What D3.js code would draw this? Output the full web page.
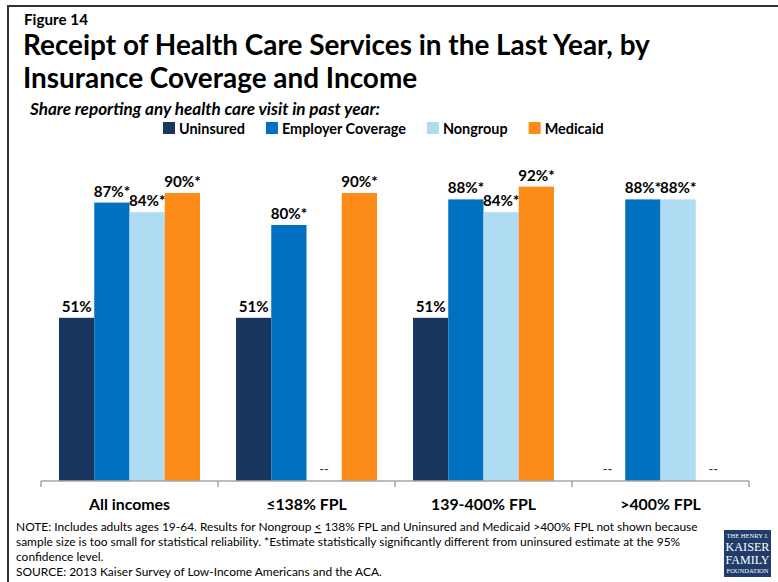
<!DOCTYPE html>
<html>
<head>
<meta charset="utf-8">
<script src="https://cdn.jsdelivr.net/npm/d3@7"></script>
<style>
  html, body { margin: 0; padding: 0; background: #fff; }
  svg { display: block; }
  text { font-family: Lato, "Open Sans", sans-serif; }
</style>
</head>
<body>
<svg id="chart" width="778" height="582"></svg>
<script>
// Share reporting any health care visit in past year, by coverage and income
const categories = ["All incomes", "\u2264138% FPL", "139-400% FPL", ">400% FPL"];
const series = ["Uninsured", "Employer Coverage", "Nongroup", "Medicaid"];
const uninsured = [51, 51, 51, null];
const employer = [87, 80, 88, 88];
const nongroup = [84, null, 84, 88];
const medicaid = [90, 90, 92, null];
// "*" = statistically different from the uninsured estimate
const significant = [false, true, true, true];
const colors = ["#17375e", "#0070c0", "#afdcf3", "#fd8b17"];

const values = [uninsured, employer, nongroup, medicaid];

const svg = d3.select("#chart");

// scale a text's font size so its rendered width equals w
function fit(sel, w) {
  const len = sel.node().getComputedTextLength();
  const fs = parseFloat(sel.attr("font-size"));
  const nfs = fs * w / len;
  sel.attr("font-size", nfs);
  return nfs;
}

// frame
svg.append("rect")
  .attr("x", 8).attr("y", 6).attr("width", 800).attr("height", 600)
  .attr("fill", "none").attr("stroke", "#333").attr("stroke-width", 2);

// headings
const fig = svg.append("text").attr("x", 24).attr("y", 25)
  .attr("font-size", 14).attr("font-weight", 700).text("Figure 14");
fit(fig, 64);

const t1 = svg.append("text").attr("x", 23).attr("y", 55)
  .attr("font-size", 27).attr("font-weight", 700)
  .text("Receipt of Health Care Services in the Last Year, by");
const titleSize = fit(t1, 627);
svg.append("text").attr("x", 23).attr("y", 88)
  .attr("font-size", titleSize).attr("font-weight", 700)
  .text("Insurance Coverage and Income");

const sub = svg.append("text").attr("x", 30).attr("y", 115)
  .attr("font-size", 16).attr("font-weight", 700).attr("font-style", "italic")
  .text("Share reporting any health care visit in past year:");
fit(sub, 350);

// legend
const legendSize = (() => {
  const probe = svg.append("text").attr("font-size", 15).attr("font-weight", 700).text("Uninsured");
  const s = fit(probe, 66);
  probe.remove();
  return s;
})();
let lx = 163;
series.forEach((name, i) => {
  svg.append("rect").attr("x", lx).attr("y", 122).attr("width", 12).attr("height", 12)
    .attr("fill", colors[i]);
  const tx = svg.append("text").attr("x", lx + 16).attr("y", 134)
    .attr("font-size", legendSize).attr("font-weight", 700).text(name);
  lx += 16 + tx.node().getComputedTextLength() + 21;
});

// scales
const x0 = d3.scaleBand().domain(categories).range([41, 749]);
const x1 = d3.scaleBand().domain(series).range([18, x0.bandwidth() - 18]);
const y = d3.scaleLinear().domain([0, 100]).range([481, 161]);

// bar label size
const labelSize = (() => {
  const probe = svg.append("text").attr("font-size", 16).attr("font-weight", 700).text("51%");
  const s = fit(probe, 30);
  probe.remove();
  return s;
})();

const groups = svg.append("g").selectAll("g").data(categories).join("g")
  .attr("transform", d => `translate(${x0(d)},0)`);

series.forEach((name, si) => {
  categories.forEach((cat, ci) => {
    const v = values[si][ci];
    const g = groups.filter(d => d === cat);
    const cx = x1(name) + x1.bandwidth() / 2;
    if (v == null) {
      g.append("text").attr("x", cx).attr("y", 474)
        .attr("text-anchor", "middle").attr("font-size", 13).attr("fill", "#333")
        .text("--");
      return;
    }
    g.append("rect")
      .attr("x", x1(name)).attr("width", x1.bandwidth())
      .attr("y", y(v)).attr("height", y(0) - y(v))
      .attr("fill", colors[si]);
    g.append("text").attr("x", cx).attr("y", y(v) - 6)
      .attr("text-anchor", "middle").attr("font-size", labelSize).attr("font-weight", 700)
      .text(v + "%" + (significant[si] ? "*" : ""));
  });
});

// x axis
const axis = svg.append("g").attr("transform", "translate(0,481)")
  .call(d3.axisBottom(x0).tickSize(0).tickFormat(""));
axis.select(".domain").attr("stroke", "#a6a6a6").attr("stroke-width", 1.5)
  .attr("d", "M41,0H749");
const bounds = categories.map(c => x0(c)).concat([x0(categories[categories.length - 1]) + x0.bandwidth()]);
axis.selectAll(".bound").data(bounds).join("line").attr("class", "bound")
  .attr("x1", d => d).attr("x2", d => d).attr("y1", 0).attr("y2", 6)
  .attr("stroke", "#a6a6a6").attr("stroke-width", 1.5);

const catSize = (() => {
  const probe = svg.append("text").attr("font-size", 16).attr("font-weight", 700).text("All incomes");
  const s = fit(probe, 81);
  probe.remove();
  return s;
})();
svg.append("g").selectAll("text").data(categories).join("text")
  .attr("x", d => x0(d) + x0.bandwidth() / 2).attr("y", 510)
  .attr("text-anchor", "middle").attr("font-size", catSize).attr("font-weight", 700)
  .text(d => d);

// notes
const notes = [
  null,
  "sample size is too small for statistical reliability. *Estimate statistically significantly different from uninsured estimate at the 95%",
  "confidence level.",
  "SOURCE: 2013 Kaiser Survey of Low-Income Americans and the ACA."
];
const n2 = svg.append("text").attr("x", 16).attr("y", 546).attr("font-size", 12).text(notes[1]);
const noteSize = fit(n2, 665);
const n1 = svg.append("text").attr("x", 16).attr("y", 531).attr("font-size", noteSize);
n1.append("tspan").text("NOTE: Includes adults ages 19-64. Results for Nongroup ");
n1.append("tspan").attr("text-decoration", "underline").style("text-decoration", "underline").text("<");
n1.append("tspan").text(" 138% FPL and Uninsured and Medicaid >400% FPL not shown because");
svg.append("text").attr("x", 16).attr("y", 561).attr("font-size", noteSize).text(notes[2]);
svg.append("text").attr("x", 16).attr("y", 576).attr("font-size", noteSize).text(notes[3]);

// foundation mark
const logo = svg.append("g").attr("transform", "translate(724,530)");
logo.append("rect").attr("width", 47).attr("height", 47).attr("fill", "#1f3c6b");
const serif = "'Liberation Serif', 'DejaVu Serif', serif";
[["THE HENRY J.", 8, 5], ["KAISER", 21, 13], ["FAMILY", 34, 13], ["FOUNDATION", 43, 4.5]].forEach(([s, yy, fs]) => {
  const t = logo.append("text").attr("x", 23.5).attr("y", yy).attr("text-anchor", "middle")
    .attr("fill", "#fff").attr("font-size", fs).style("font-family", serif).text(s);
  fit(t, s.length > 7 ? 42 : 44);
});
</script>
</body>
</html>
